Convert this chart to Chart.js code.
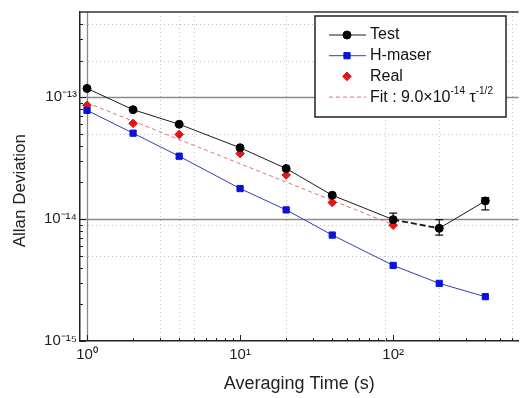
<!DOCTYPE html>
<html>
<head>
<meta charset="utf-8">
<script src="https://cdn.jsdelivr.net/npm/chart.js@4.4.1/dist/chart.umd.min.js"></script>
<style>
  html, body { margin: 0; padding: 0; background: #fff; }
  #wrap { width: 524px; height: 398px; }
</style>
</head>
<body>
<div id="wrap"><canvas id="chart"></canvas></div>
<script>
// averaging times (s) and Allan deviations
const tau = [1, 2, 4, 10, 20, 40, 100, 200, 400];
const testDev = [1.18e-13, 7.9e-14, 6.0e-14, 3.85e-14, 2.6e-14, 1.57e-14, 9.9e-15, 8.4e-15, 1.41e-14];
const testErrLow = [null, null, null, null, null, null, 9.0e-15, 7.4e-15, 1.19e-14];
const testErrHigh = [null, null, null, null, null, null, 1.12e-14, 9.9e-15, 1.5e-14];
const maserDev = [7.8e-14, 5.07e-14, 3.28e-14, 1.78e-14, 1.19e-14, 7.4e-15, 4.17e-15, 2.97e-15, 2.31e-15];
const realTau = [1, 2, 4, 10, 20, 40, 100];
const realDev = [8.6e-14, 6.1e-14, 4.95e-14, 3.45e-14, 2.3e-14, 1.37e-14, 8.9e-15];
const fitTau = [1, 100];
const fitDev = [9.0e-14, 9.0e-15];

// axes
const xTicks = [1, 10, 100];
const xTickLabels = ['10⁰', '10¹', '10²'];
const yTicks = [1e-15, 1e-14, 1e-13];
const yTickLabels = ['10⁻¹⁵', '10⁻¹⁴', '10⁻¹³'];
const xMinor = [2, 3, 4, 5, 6, 7, 8, 9, 20, 30, 40, 50, 60, 70, 80, 90, 200, 300, 400, 500, 600];
const yMinor = [2e-15, 3e-15, 4e-15, 5e-15, 6e-15, 7e-15, 8e-15, 9e-15,
  2e-14, 3e-14, 4e-14, 5e-14, 6e-14, 7e-14, 8e-14, 9e-14, 2e-13, 3e-13, 4e-13];
const xSolid = [1];
const ySolid = [1e-14, 1e-13];
const xDotted = [3, 4, 5, 20, 88, 200, 600];
const yDotted = [5e-15, 9e-15, 5e-14, 2e-13, 4e-13];

const fitLabel = [['Fit : 9.0×10', false], ['-14', true], [' τ', false], ['-1/2', true]];

const FONT = '"Liberation Sans", Arial, sans-serif';
const pts = (xs, ys) => xs.map((x, i) => ({ x, y: ys[i] }));

function drawRich(ctx, parts, x, y, size) {
  parts.forEach(([t, sup]) => {
    ctx.font = (sup ? Math.round(size * 0.62) : size) + 'px ' + FONT;
    ctx.fillText(t, x, sup ? y - size * 0.38 : y);
    x += ctx.measureText(t).width;
  });
}

const axisDecor = {
  id: 'axisDecor',
  beforeDatasetsDraw(chart) {
    const { ctx, chartArea: a, scales: { x, y } } = chart;
    const vline = v => {
      const px = Math.round(x.getPixelForValue(v)) + 0.5;
      ctx.beginPath(); ctx.moveTo(px, a.top); ctx.lineTo(px, a.bottom); ctx.stroke();
    };
    const hline = v => {
      const py = Math.round(y.getPixelForValue(v)) + 0.5;
      ctx.beginPath(); ctx.moveTo(a.left, py); ctx.lineTo(a.right, py); ctx.stroke();
    };
    ctx.save();
    ctx.lineWidth = 1;
    ctx.strokeStyle = '#c2c2c2';
    ctx.setLineDash([1, 3]);
    xDotted.forEach(vline);
    yDotted.forEach(hline);
    ctx.setLineDash([]);
    ctx.strokeStyle = '#8a8a8a';
    ctx.lineWidth = 1.3;
    xSolid.forEach(vline);
    ySolid.forEach(hline);

    // inward tick marks
    ctx.strokeStyle = '#222';
    ctx.lineWidth = 1;
    const tickX = (v, len) => {
      const px = Math.round(x.getPixelForValue(v)) + 0.5;
      ctx.beginPath(); ctx.moveTo(px, a.bottom); ctx.lineTo(px, a.bottom - len); ctx.stroke();
    };
    const tickY = (v, len) => {
      const py = Math.round(y.getPixelForValue(v)) + 0.5;
      ctx.beginPath(); ctx.moveTo(a.left, py); ctx.lineTo(a.left + len, py); ctx.stroke();
    };
    xMinor.forEach(v => tickX(v, 3));
    xTicks.forEach(v => tickX(v, 6));
    yMinor.forEach(v => tickY(v, 3));
    yTicks.forEach(v => tickY(v, 6));

    // top frame
    ctx.strokeStyle = '#333';
    ctx.lineWidth = 1.5;
    ctx.beginPath(); ctx.moveTo(a.left, a.top); ctx.lineTo(a.right, a.top); ctx.stroke();

    // error bars on the Test points
    ctx.strokeStyle = '#111';
    ctx.lineWidth = 1.2;
    tau.forEach((t, i) => {
      if (testErrLow[i] == null) return;
      const px = x.getPixelForValue(t);
      const lo = y.getPixelForValue(testErrLow[i]);
      const hi = y.getPixelForValue(testErrHigh[i]);
      ctx.beginPath();
      ctx.moveTo(px, lo); ctx.lineTo(px, hi);
      ctx.moveTo(px - 4, lo); ctx.lineTo(px + 4, lo);
      ctx.moveTo(px - 4, hi); ctx.lineTo(px + 4, hi);
      ctx.stroke();
    });
    ctx.restore();
  }
};

const boxLegend = {
  id: 'boxLegend',
  afterDraw(chart) {
    const ctx = chart.ctx;
    const bx = 315, by = 16, bw = 191, bh = 101;
    ctx.save();
    ctx.fillStyle = '#fff';
    ctx.fillRect(bx, by, bw, bh);
    ctx.strokeStyle = '#222';
    ctx.lineWidth = 1.5;
    ctx.strokeRect(bx, by, bw, bh);
    ctx.textBaseline = 'middle';
    ctx.textAlign = 'left';
    chart.data.datasets.forEach((ds, i) => {
      const ry = by + 19 + i * 20.7;
      if (ds.showLine !== false) {
        ctx.strokeStyle = ds.borderColor;
        ctx.lineWidth = ds.borderWidth;
        ctx.setLineDash(ds.borderDash || []);
        ctx.beginPath(); ctx.moveTo(bx + 14, ry); ctx.lineTo(bx + 51, ry); ctx.stroke();
        ctx.setLineDash([]);
      }
      if (ds.pointRadius > 0) {
        ctx.fillStyle = ds.pointBackgroundColor || ds.backgroundColor;
        ctx.strokeStyle = ds.pointBorderColor || ds.borderColor;
        ctx.lineWidth = 1;
        Chart.helpers.drawPoint(ctx, { pointStyle: ds.pointStyle, radius: ds.pointRadius, borderWidth: 1 }, bx + 32, ry);
      }
      ctx.fillStyle = '#111';
      if (ds.label === 'Fit') {
        drawRich(ctx, fitLabel, bx + 55, ry, 16);
      } else {
        ctx.font = '16px ' + FONT;
        ctx.fillText(ds.label, bx + 55, ry);
      }
    });
    ctx.restore();
  }
};

new Chart(document.getElementById('chart'), {
  type: 'line',
  data: {
    datasets: [
      {
        label: 'Test',
        data: pts(tau, testDev),
        borderColor: '#1a1a1a',
        backgroundColor: '#000',
        pointBackgroundColor: '#000',
        pointBorderColor: '#000',
        borderWidth: 1,
        pointStyle: 'circle',
        pointRadius: 4,
        segment: {
          borderDash: c => c.p0DataIndex === 6 ? [6, 3] : undefined,
          borderWidth: c => c.p0DataIndex === 6 ? 1.8 : undefined
        }
      },
      {
        label: 'H-maser',
        data: pts(tau, maserDev),
        borderColor: '#3040a8',
        backgroundColor: '#0a14d8',
        pointBackgroundColor: '#0a14d8',
        pointBorderColor: '#0a14d8',
        borderWidth: 1,
        pointStyle: 'rect',
        pointRadius: 4.4
      },
      {
        label: 'Real',
        data: pts(realTau, realDev),
        showLine: false,
        borderColor: '#e41414',
        backgroundColor: '#e41414',
        pointBackgroundColor: '#e41414',
        pointBorderColor: '#e41414',
        pointStyle: 'rectRot',
        pointRadius: 4.3
      },
      {
        label: 'Fit',
        data: pts(fitTau, fitDev),
        borderColor: '#e07070',
        borderWidth: 1,
        borderDash: [4, 3],
        pointRadius: 0
      }
    ]
  },
  options: {
    responsive: true,
    maintainAspectRatio: false,
    animation: false,
    layout: { padding: { top: 11, left: 0, right: 0, bottom: 0 } },
    plugins: { legend: { display: false }, tooltip: { enabled: false } },
    scales: {
      x: {
        type: 'logarithmic',
        min: 0.9,
        max: 660,
        bounds: 'data',
        afterBuildTicks: s => { s.ticks = xTicks.map(v => ({ value: v })); },
        afterFit: s => { s.height = 57; },
        grid: { display: false, drawTicks: false },
        border: { color: '#222', width: 1.5 },
        ticks: {
          callback: (v, i) => xTickLabels[i],
          autoSkip: false,
          maxRotation: 0,
          padding: 5,
          color: '#222',
          font: { family: FONT, size: 15 }
        },
        title: {
          display: true,
          text: 'Averaging Time (s)',
          color: '#222',
          font: { family: FONT, size: 18 },
          padding: { top: 0, bottom: 3 }
        }
      },
      y: {
        type: 'logarithmic',
        min: 1e-15,
        max: 5e-13,
        bounds: 'data',
        afterBuildTicks: s => { s.ticks = yTicks.map(v => ({ value: v })); },
        afterFit: s => { s.width = 80; },
        grid: { display: false, drawTicks: false },
        border: { color: '#222', width: 1.5 },
        ticks: {
          callback: (v, i) => yTickLabels[i],
          autoSkip: false,
          padding: 3,
          color: '#222',
          font: { family: FONT, size: 15 }
        },
        title: {
          display: true,
          // trailing spaces nudge the centred title down to where it sits in the original
          text: 'Allan Deviation      ',
          color: '#222',
          font: { family: FONT, size: 17 },
          padding: { top: 10, bottom: 0 }
        }
      }
    }
  },
  plugins: [axisDecor, boxLegend]
});
</script>
</body>
</html>
